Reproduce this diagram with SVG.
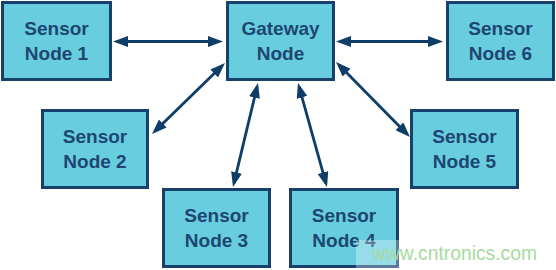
<svg xmlns="http://www.w3.org/2000/svg" width="556" height="270" viewBox="0 0 556 270">
<style>
.box{fill:#69cde0;stroke:#17416a;stroke-width:3}
.lbl{font-family:"Liberation Sans",Arial,sans-serif;font-weight:bold;font-size:19px;fill:#1d4670;text-anchor:middle}
.conn{stroke:#0e3e68;stroke-width:2.8;fill:none;marker-start:url(#ah);marker-end:url(#ah)}
.wm{font-family:"Liberation Sans",Arial,sans-serif;font-size:19.3px;fill:#a6dba0}
</style>
<defs>
<marker id="ah" markerUnits="userSpaceOnUse" markerWidth="15" markerHeight="11" refX="11" refY="5.5" orient="auto-start-reverse">
<path d="M0,0 L15,5.5 L0,11 z" fill="#0e3e68"/>
</marker>
</defs>
<rect width="556" height="270" fill="#ffffff"/>
<g id="connectors">
<path class="conn" d="M117,41.5 L219,41.5"/>
<path class="conn" d="M340,41.5 L439,41.5"/>
<path class="conn" d="M222.13,65.79 L154.87,131.21"/>
<path class="conn" d="M257.06,86.89 L233.94,183.11"/>
<path class="conn" d="M299.08,86.85 L325.92,183.15"/>
<path class="conn" d="M338.81,64.85 L407.19,134.15"/>
</g>
<g id="sensor1"><rect class="box" x="2.5" y="2.5" width="108" height="77"/><text class="lbl" x="56.5" y="35">Sensor</text><text class="lbl" x="56.5" y="60">Node 1</text></g>
<g id="gateway"><rect class="box" x="227.5" y="2.5" width="106" height="77"/><text class="lbl" x="280.5" y="35">Gateway</text><text class="lbl" x="280.5" y="60">Node</text></g>
<g id="sensor6"><rect class="box" x="447.5" y="2.5" width="106" height="77"/><text class="lbl" x="500.5" y="35">Sensor</text><text class="lbl" x="500.5" y="60">Node 6</text></g>
<g id="sensor2"><rect class="box" x="42.5" y="110.5" width="105" height="77"/><text class="lbl" x="95" y="143">Sensor</text><text class="lbl" x="95" y="168">Node 2</text></g>
<g id="sensor5"><rect class="box" x="411.5" y="110.5" width="106" height="77"/><text class="lbl" x="464.5" y="143">Sensor</text><text class="lbl" x="464.5" y="168">Node 5</text></g>
<g id="sensor3"><rect class="box" x="163.5" y="189.5" width="106" height="77"/><text class="lbl" x="216.5" y="222">Sensor</text><text class="lbl" x="216.5" y="247">Node 3</text></g>
<g id="sensor4"><rect class="box" x="290.5" y="189.5" width="107" height="77"/><text class="lbl" x="344" y="222">Sensor</text><text class="lbl" x="344" y="247">Node 4</text></g>
<rect x="356" y="240" width="200" height="30" fill="#ffffff" fill-opacity="0.3"/>
<text class="wm" x="372" y="260">www.cntronics.com</text>
</svg>
